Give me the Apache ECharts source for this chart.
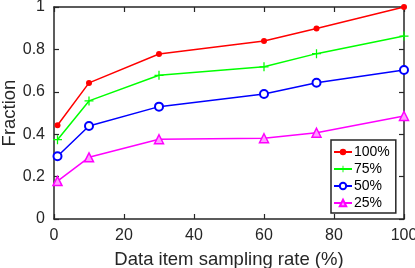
<!DOCTYPE html>
<html><head><meta charset="utf-8">
<script src="https://cdn.jsdelivr.net/npm/echarts@6/dist/echarts.min.js"></script>
<style>html,body{margin:0;padding:0;background:#fff}#c{width:415px;height:268px}</style>
</head><body><div id="c"></div>
<script>
const xs = [1, 10, 30, 60, 75, 100];
const s100 = [0.442, 0.642, 0.778, 0.840, 0.899, 1.0];
const s75 = [0.374, 0.557, 0.678, 0.718, 0.780, 0.863];
const s50 = [0.296, 0.439, 0.530, 0.590, 0.643, 0.703];
const s25 = [0.179, 0.291, 0.376, 0.381, 0.407, 0.486];
const names = ['100%', '75%', '50%', '25%'];
const xTicks = [0, 20, 40, 60, 80, 100];
const yTicks = [0, 0.2, 0.4, 0.6, 0.8, 1];

const pair = a => xs.map((x, i) => [x, a[i]]);
const axisC = '#262626';
const font = 'Liberation Sans, Arial, sans-serif';
const chart = echarts.init(document.getElementById('c'), null, {renderer: 'canvas'});
const mkAxis = (show, extra) => Object.assign({
  type: 'value', min: 0, axisLine: {show: true, onZero: false, lineStyle: {color: axisC, width: 1.5}},
  axisTick: {show: true, inside: true, length: 5, lineStyle: {color: axisC, width: 1.2}},
  splitLine: {show: false},
  axisLabel: {show: show}
}, extra);
const plus = 'path://M4.3,0H5.7V4.3H10V5.7H5.7V10H4.3V5.7H0V4.3H4.3Z';
const nameStyle = {color: '#262626', fontSize: 18.5, fontFamily: font};
chart.setOption({
  animation: false,
  grid: {left: 54, right: 11, top: 7, bottom: 49, containLabel: false, outerBoundsMode: 'none'},
  xAxis: [
    mkAxis(true, {max: 100, interval: 20, position: 'bottom', name: 'Data item sampling rate (%)', nameLocation: 'middle', nameGap: 31,
      nameMoveOverlap: false, nameTextStyle: nameStyle,
      axisLabel: {show: true, color: '#262626', fontSize: 16, fontFamily: font, margin: 9,
        formatter: v => xTicks.includes(v) ? String(v) : ''}}),
    mkAxis(false, {max: 100, interval: 20, position: 'top'})
  ],
  yAxis: [
    mkAxis(true, {max: 1, interval: 0.2, position: 'left', name: 'Fraction', nameLocation: 'middle', nameGap: 35,
      nameMoveOverlap: false, nameTextStyle: nameStyle,
      axisLabel: {show: true, color: '#262626', fontSize: 16, fontFamily: font, margin: 9,
        formatter: v => { const t = yTicks.find(y => Math.abs(y - v) < 1e-9); return t === undefined ? '' : String(t); }}}),
    mkAxis(false, {max: 1, interval: 0.2, position: 'right'})
  ],
  legend: {
    orient: 'vertical', left: 331, top: 140, itemWidth: 18, itemHeight: 8, itemGap: 1,
    padding: [4, 6, 2, 2], borderColor: axisC, borderWidth: 1.5, backgroundColor: '#fff',
    textStyle: {color: '#000', fontSize: 14, fontFamily: font, lineHeight: 16, padding: [0, 0, 0, -3]},
    data: names
  },
  series: [
    {name: names[0], type: 'line', data: pair(s100), color: '#ff0000', symbol: 'circle', symbolSize: 6,
      lineStyle: {width: 1.5, color: '#ff0000'}, itemStyle: {color: '#ff0000'}},
    {name: names[1], type: 'line', data: pair(s75), color: '#00ff00', symbol: plus, symbolSize: 9,
      lineStyle: {width: 1.5, color: '#00ff00'}, itemStyle: {color: '#00ff00'}},
    {name: names[2], type: 'line', data: pair(s50), color: '#0000ff', symbol: 'emptyCircle', symbolSize: 8,
      lineStyle: {width: 1.5, color: '#0000ff'}, itemStyle: {color: '#0000ff', borderWidth: 1.5}},
    {name: names[3], type: 'line', data: pair(s25), color: '#ff00ff', symbol: 'triangle', symbolSize: 9,
      lineStyle: {width: 1.5, color: '#ff00ff'}, itemStyle: {color: '#ff9cff', borderColor: '#ff00ff', borderWidth: 1.5}}
  ]
});
</script></body></html>
